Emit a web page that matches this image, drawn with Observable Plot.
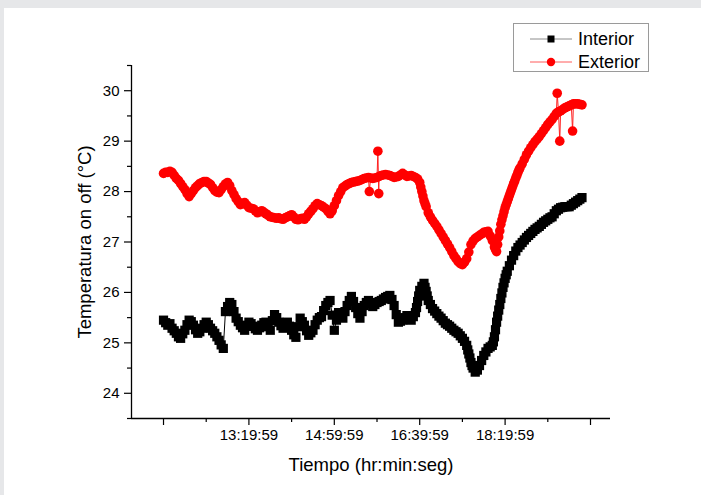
<!DOCTYPE html>
<html><head><meta charset="utf-8">
<script src="https://cdn.jsdelivr.net/npm/d3@7"></script>
<script src="https://cdn.jsdelivr.net/npm/@observablehq/plot@0.6"></script>
<style>
html,body{margin:0;padding:0;background:#e6e7e9;width:701px;height:495px;overflow:hidden;}
#page{position:absolute;left:4px;top:8px;width:697px;height:487px;background:#fff;}
#chart{position:absolute;left:0;top:0;}
#legend{position:absolute;left:0;top:0;}
</style></head><body><div id="page"></div><div id="chart"></div><div id="legend"></div>
<script>
// ---- data ----
const interiorTime = [
"11:40:00","11:42:30","11:45:00","11:47:30","11:50:00","11:52:30","11:55:00","11:57:30",
"12:00:00","12:02:30","12:05:00","12:07:30","12:10:00","12:12:30","12:15:00","12:17:30","12:20:00","12:22:30","12:25:00","12:27:30","12:30:00","12:32:30","12:35:00","12:37:30","12:40:00","12:42:30","12:45:00","12:47:30","12:50:00","12:52:30","12:55:00","12:57:30",
"13:00:00","13:02:30","13:05:00","13:07:30","13:10:00","13:12:30","13:15:00","13:17:30","13:20:00","13:22:30","13:25:00","13:27:30","13:30:00","13:32:30","13:35:00","13:37:30","13:40:00","13:42:30","13:45:00","13:47:30","13:50:00","13:52:30","13:55:00","13:57:30",
"14:00:00","14:02:30","14:05:00","14:07:30","14:10:00","14:12:30","14:15:00","14:17:30","14:20:00","14:22:30","14:25:00","14:27:30","14:30:00","14:32:30","14:35:00","14:37:30","14:40:00","14:42:30","14:45:00","14:47:30","14:50:00","14:52:30","14:55:00","14:57:30",
"15:00:00","15:02:30","15:05:00","15:07:30","15:10:00","15:12:30","15:15:00","15:17:30","15:20:00","15:22:30","15:25:00","15:27:30","15:30:00","15:32:30","15:35:00","15:37:30","15:40:00","15:42:30","15:45:00","15:47:30","15:50:00","15:52:30","15:55:00","15:57:30",
"16:00:00","16:02:30","16:05:00","16:07:30","16:10:00","16:12:30","16:15:00","16:17:30","16:20:00","16:22:30","16:25:00","16:27:30","16:30:00","16:32:30","16:35:00","16:37:30","16:40:00","16:42:30","16:45:00","16:47:30","16:50:00","16:52:30","16:55:00","16:57:30",
"17:00:00","17:02:30","17:05:00","17:07:30","17:10:00","17:12:30","17:15:00","17:17:30","17:20:00","17:22:30","17:25:00","17:27:30","17:30:00","17:32:30","17:35:00","17:37:30","17:40:00","17:42:30","17:45:00","17:47:30","17:50:00","17:52:30","17:55:00","17:57:30",
"18:00:00","18:02:30","18:05:00","18:07:30","18:10:00","18:12:30","18:15:00","18:17:30","18:20:00","18:22:30","18:25:00","18:27:30","18:30:00","18:32:30","18:35:00","18:37:30","18:40:00","18:42:30","18:45:00","18:47:30","18:50:00","18:52:30","18:55:00","18:57:30",
"19:00:00","19:02:30","19:05:00","19:07:30","19:10:00","19:12:30","19:15:00","19:17:30","19:20:00","19:22:30","19:25:00","19:27:30","19:30:00","19:32:30","19:35:00","19:37:30","19:40:00","19:42:30","19:45:00","19:47:30","19:50:00"];
const interior = [
25.45,25.40,25.35,25.38,25.29,25.24,25.19,25.12,
25.09,25.18,25.25,25.36,25.45,25.42,25.35,25.26,25.19,25.22,25.29,25.36,25.41,25.36,25.29,25.24,25.19,25.12,25.05,24.96,24.89,25.62,25.72,25.80,
25.76,25.62,25.49,25.42,25.35,25.30,25.25,25.33,25.41,25.38,25.33,25.28,25.25,25.30,25.35,25.40,25.41,25.32,25.25,25.44,25.56,25.50,25.41,25.34,
25.29,25.36,25.41,25.33,25.25,25.16,25.11,25.32,25.49,25.42,25.35,25.24,25.15,25.20,25.25,25.36,25.45,25.50,25.52,25.64,25.74,25.80,25.84,25.55,
25.25,25.45,25.60,25.55,25.49,25.62,25.74,25.84,25.92,25.82,25.70,25.58,25.49,25.62,25.74,25.80,25.84,25.78,25.72,25.76,25.80,25.82,25.84,25.87,
25.90,25.92,25.94,25.86,25.74,25.56,25.41,25.43,25.45,25.50,25.54,25.49,25.45,25.52,25.60,25.82,26.04,26.12,26.18,26.02,25.84,25.76,25.68,25.63,
25.58,25.53,25.49,25.44,25.39,25.36,25.33,25.29,25.25,25.22,25.19,25.14,25.09,25.03,24.95,24.78,24.61,24.50,24.42,24.46,24.55,24.65,24.75,24.82,
24.89,24.92,24.95,25.12,25.41,25.65,25.88,26.10,26.28,26.42,26.53,26.64,26.73,26.82,26.89,26.94,26.99,27.04,27.09,27.13,27.17,27.21,27.25,27.28,
27.31,27.35,27.39,27.42,27.45,27.48,27.50,27.56,27.62,27.65,27.68,27.69,27.70,27.70,27.70,27.73,27.76,27.79,27.82,27.85,27.88];
// additional readings on the steep stretches
const interiorExtraTime = ["16:36:15","16:38:45","16:46:15","16:48:45","17:36:15","17:38:45","17:41:15","18:06:15","18:08:45","18:11:15","18:13:45","18:16:15","18:18:45","18:21:15"];
const interiorExtra = [25.70,25.93,26.10,25.93,24.86,24.70,24.55,25.02,25.26,25.53,25.76,25.99,26.19,26.35];

const exteriorTime = [
"11:40:00","11:42:30","11:45:00","11:47:30","11:50:00","11:52:30","11:55:00","11:57:30",
"12:00:00","12:02:30","12:05:00","12:07:30","12:10:00","12:12:30","12:15:00","12:17:30","12:20:00","12:22:30","12:25:00","12:27:30","12:30:00","12:32:30","12:35:00","12:37:30","12:40:00","12:42:30","12:45:00","12:47:30","12:50:00","12:52:30","12:55:00","12:57:30",
"13:00:00","13:02:30","13:05:00","13:07:30","13:10:00","13:12:30","13:15:00","13:17:30","13:20:00","13:22:30","13:25:00","13:27:30","13:30:00","13:32:30","13:35:00","13:37:30","13:40:00","13:42:30","13:45:00","13:47:30","13:50:00","13:52:30","13:55:00","13:57:30",
"14:00:00","14:02:30","14:05:00","14:07:30","14:10:00","14:12:30","14:15:00","14:17:30","14:20:00","14:22:30","14:25:00","14:27:30","14:30:00","14:32:30","14:35:00","14:37:30","14:40:00","14:42:30","14:45:00","14:47:30","14:50:00","14:52:30","14:55:00","14:57:30",
"15:00:00","15:02:30","15:05:00","15:07:30","15:10:00","15:12:30","15:15:00","15:17:30","15:20:00","15:22:30","15:25:00","15:27:30","15:30:00","15:32:30","15:35:00","15:37:30","15:40:00","15:41:00","15:42:30","15:45:00","15:47:30","15:50:00","15:51:00","15:52:00","15:52:30","15:55:00","15:57:30",
"16:00:00","16:02:30","16:05:00","16:07:30","16:10:00","16:12:30","16:15:00","16:17:30","16:20:00","16:22:30","16:25:00","16:27:30","16:30:00","16:32:30","16:35:00","16:37:30","16:40:00","16:42:30","16:45:00","16:47:30","16:50:00","16:52:30","16:55:00","16:57:30",
"17:00:00","17:02:30","17:05:00","17:07:30","17:10:00","17:12:30","17:15:00","17:17:30","17:20:00","17:22:30","17:25:00","17:27:30","17:30:00","17:32:30","17:35:00","17:37:30","17:40:00","17:42:30","17:45:00","17:47:30","17:50:00","17:52:30","17:55:00","17:57:30",
"18:00:00","18:02:30","18:05:00","18:07:30","18:10:00","18:12:30","18:15:00","18:17:30","18:20:00","18:22:30","18:25:00","18:27:30","18:30:00","18:32:30","18:35:00","18:37:30","18:40:00","18:42:30","18:45:00","18:47:30","18:50:00","18:52:30","18:55:00","18:57:30",
"19:00:00","19:02:30","19:05:00","19:07:30","19:10:00","19:12:30","19:15:00","19:17:30","19:20:00","19:21:00","19:22:30","19:24:00","19:25:00","19:27:30","19:30:00","19:32:30","19:35:00","19:37:30","19:39:00","19:40:00","19:42:30","19:45:00","19:47:30","19:50:00"];
const exterior = [
28.36,28.38,28.38,28.40,28.38,28.32,28.26,28.22,
28.16,28.10,28.04,27.96,27.90,27.96,28.02,28.08,28.12,28.16,28.18,28.20,28.20,28.17,28.14,28.08,28.02,27.99,27.98,28.04,28.10,28.15,28.18,28.12,
28.02,27.94,27.86,27.80,27.74,27.76,27.78,27.73,27.68,27.67,27.66,27.62,27.58,27.60,27.62,27.59,27.56,27.53,27.50,27.49,27.48,27.47,27.48,27.46,
27.45,27.48,27.50,27.52,27.54,27.50,27.45,27.44,27.46,27.47,27.45,27.50,27.56,27.61,27.66,27.72,27.76,27.74,27.72,27.69,27.66,27.61,27.56,27.62,
27.72,27.82,27.92,28.00,28.08,28.11,28.14,28.16,28.18,28.19,28.20,28.21,28.22,28.24,28.26,28.27,28.28,28.00,28.27,28.26,28.27,28.28,28.80,27.96,28.30,28.32,28.33,
28.34,28.33,28.32,28.30,28.28,28.29,28.30,28.33,28.36,28.33,28.30,28.31,28.32,28.30,28.28,28.25,28.18,28.00,27.82,27.70,27.58,27.50,27.43,27.37,
27.31,27.24,27.17,27.10,27.03,26.96,26.89,26.81,26.73,26.67,26.61,26.57,26.55,26.60,26.67,26.80,26.95,27.02,27.07,27.10,27.13,27.16,27.19,27.20,
27.21,27.12,27.03,26.90,26.81,27.10,27.35,27.52,27.68,27.80,27.92,28.04,28.16,28.27,28.38,28.47,28.55,28.64,28.73,28.80,28.87,28.93,28.99,29.04,
29.09,29.15,29.21,29.27,29.33,29.38,29.43,29.49,29.55,29.95,29.58,29.00,29.60,29.63,29.66,29.68,29.70,29.72,29.20,29.74,29.74,29.74,29.73,29.72];
// additional readings on the steep stretches
const exteriorExtraTime = ["16:41:15","16:43:45","16:46:15","18:08:45","18:11:15","18:13:45","18:16:15","18:18:45","18:21:15","18:23:45","18:26:15","18:28:45","18:31:15","18:33:45","18:36:15"];
const exteriorExtra = [28.09,27.91,27.76,26.85,26.95,27.22,27.44,27.60,27.74,27.86,27.98,28.10,28.21,28.32,28.43];

const yTicks = [24,25,26,27,28,29,30];
const yMinorTicks = [23.5,24.5,25.5,26.5,27.5,28.5,29.5,30.5];
const xTickTimes = ["11:39:59","13:19:59","14:59:59","16:39:59","18:19:59","19:59:59"];
const xTickLabels = ["","13:19:59","14:59:59","16:39:59","18:19:59",""];
const xMinorTimes = ["12:29:59","14:09:59","15:49:59","17:29:59","19:09:59"];
const seriesNames = ["Interior","Exterior"];

// ---- helpers ----
const toMin = s => { const p = s.split(":").map(Number); return p[0]*60 + p[1] + (p[2]||0)/60; };
const build = (times, vals) => times.map((t,i) => ({t: toMin(t), v: vals[i]})).filter(d => d.v != null);
const intData = build(interiorTime, interior).concat(build(interiorExtraTime, interiorExtra)).sort((a,b) => a.t - b.t);
const extData = build(exteriorTime, exterior).concat(build(exteriorExtraTime, exteriorExtra)).sort((a,b) => a.t - b.t);
const xMajor = xTickTimes.map(toMin);
const xMinor = xMinorTimes.map(toMin);
const labelMap = new Map(xMajor.map((m,i) => [m, xTickLabels[i]]));
const xDomain = [662.5, 1223.4];
const yDomain = [23.5, 30.5];
const font = "Liberation Sans, Arial, Helvetica, sans-serif";

const chart = Plot.plot({
  width: 701, height: 495,
  marginLeft: 131, marginRight: 91, marginTop: 65, marginBottom: 77,
  style: {background: "transparent", fontFamily: font, fontSize: "15px", color: "#000"},
  x: {domain: xDomain, axis: null},
  y: {domain: yDomain, axis: null},
  marks: [
    Plot.axisY(yTicks, {anchor: "left", tickSize: 7, tickPadding: 5, label: null, fontSize: 15, tickFormat: d => String(d), strokeWidth: 1.2}),
    Plot.axisY(yMinorTicks, {anchor: "left", tickSize: 4, text: null, label: null, strokeWidth: 1.2}),
    Plot.axisX(xMajor, {anchor: "bottom", tickSize: 7, tickPadding: 4, label: null, fontSize: 15, tickFormat: d => labelMap.get(d), strokeWidth: 1.2}),
    Plot.axisX(xMinor, {anchor: "bottom", tickSize: 4, text: null, label: null, strokeWidth: 1.2}),
    Plot.ruleX([xDomain[0]], {stroke: "#000", strokeWidth: 1.3}),
    Plot.ruleY([yDomain[0]], {stroke: "#000", strokeWidth: 1.3}),
    Plot.line(intData, {x: "t", y: "v", stroke: "#000", strokeWidth: 1}),
    Plot.dot(intData, {x: "t", y: "v", symbol: "square", r: 5.2, fill: "#000", stroke: "none"}),
    Plot.line(extData, {x: "t", y: "v", stroke: "#ff2020", strokeWidth: 1}),
    Plot.dot(extData, {x: "t", y: "v", symbol: "circle", r: 4.8, fill: "#ff0000", stroke: "none"}),
    Plot.text(["Tiempo (hr:min:seg)"], {frameAnchor: "bottom", dy: 47, lineAnchor: "middle", textAnchor: "middle", fontSize: 18.5, fill: "#000"}),
    Plot.text(["Temperatura on off (°C)"], {frameAnchor: "left", dx: -46, rotate: -90, lineAnchor: "middle", textAnchor: "middle", fontSize: 18.5, fill: "#000"})
  ]
});
document.getElementById("chart").appendChild(chart);

// ---- legend ----
const lg = d3.select("#legend").append("svg").attr("width", 701).attr("height", 100)
  .style("position","absolute").style("left","0").style("top","0");
lg.append("rect").attr("x", 513.5).attr("y", 23.5).attr("width", 135).attr("height", 48)
  .attr("fill", "#fff").attr("stroke", "#9a9a9a").attr("stroke-width", 1);
const rows = [{name: seriesNames[0], y: 39, color: "#000", line: "#8c8c8c", sym: "square"},
              {name: seriesNames[1], y: 62, color: "#ff0000", line: "#ff5a5a", sym: "circle"}];
rows.forEach(r => {
  lg.append("line").attr("x1", 530).attr("x2", 572).attr("y1", r.y).attr("y2", r.y)
    .attr("stroke", r.line).attr("stroke-width", 1);
  if (r.sym === "square") lg.append("rect").attr("x", 547.5).attr("y", r.y-3.5).attr("width", 7).attr("height", 7).attr("fill", r.color);
  else lg.append("circle").attr("cx", 551).attr("cy", r.y).attr("r", 4.2).attr("fill", r.color);
  lg.append("text").attr("x", 578).attr("y", r.y).attr("dy", "0.36em")
    .attr("font-family", font).attr("font-size", 18).attr("fill", "#000").text(r.name);
});
</script></body></html>
